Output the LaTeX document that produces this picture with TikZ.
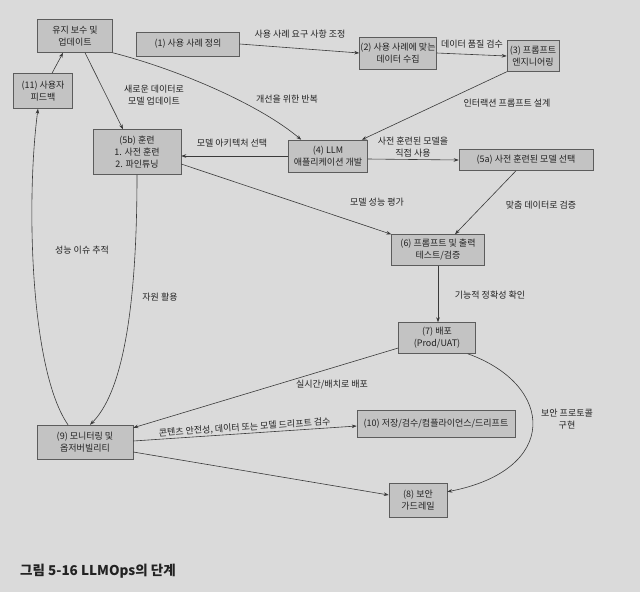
\documentclass[tikz,border=0pt]{standalone}
\usepackage{fontspec}
\setmainfont{Noto Sans CJK KR}
\usetikzlibrary{arrows.meta,calc}
\definecolor{bg}{HTML}{DADADA}
\definecolor{boxfill}{HTML}{C3C3C3}
\definecolor{boxline}{HTML}{5C5C5C}
\definecolor{ln}{HTML}{3A3A3A}
\definecolor{txt}{HTML}{222222}
\begin{document}
\begin{tikzpicture}[x=1pt,y=-1pt,
  box/.style={draw=boxline, fill=boxfill, line width=0.5pt, inner sep=0pt, align=center,
    font=\fontsize{9}{12}\selectfont, text=txt},
  lbl/.style={font=\fontsize{9}{12}\selectfont, text=txt, inner sep=1pt, align=center},
  arr/.style={draw=ln, line width=0.6pt, -{Stealth[length=5pt,width=3.6pt]}}]
\fill[bg] (0,0) rectangle (640,592);
\useasboundingbox (0,0) rectangle (640,592);

% boxes
\node[box, minimum width=75pt, minimum height=33pt] (nM) at (75,36) {유지 보수 및\\업데이트};
\node[box, minimum width=103pt, minimum height=24pt] (n1) at (188,44) {(1) 사용 사례 정의};
\node[box, minimum width=77pt, minimum height=32pt] (n2) at (398,53) {(2) 사용 사례에 맞는\\데이터 수집};
\node[box, minimum width=52pt, minimum height=31pt] (n3) at (533,56) {(3) 프롬프트\\엔지니어링};
\node[box, minimum width=59pt, minimum height=35pt] (n11) at (43,91) {(11) 사용자\\피드백};
\node[box, minimum width=88pt, minimum height=45pt] (n5b) at (137,152) {(5b) 훈련\\1. 사전 훈련\\2. 파인튜닝};
\node[box, minimum width=79pt, minimum height=32pt] (n4) at (328,156) {(4) LLM\\애플리케이션 개발};
\node[box, minimum width=134pt, minimum height=21pt] (n5a) at (526,160) {(5a) 사전 훈련된 모델 선택};
\node[box, minimum width=93pt, minimum height=31pt] (n6) at (438,250) {(6) 프롬프트 및 출력\\테스트/검증};
\node[box, minimum width=77pt, minimum height=31pt] (n7) at (437,338) {(7) 배포\\(Prod/UAT)};
\node[box, minimum width=96pt, minimum height=34pt] (n9) at (85,442) {(9) 모니터링 및\\옵저버빌리티};
\node[box, minimum width=158pt, minimum height=27pt] (n10) at (436,424) {(10) 저장/검수/컴플라이언스/드리프트};
\node[box, minimum width=58pt, minimum height=34pt] (n8) at (418,500) {(8) 보안\\가드레일};

% connectors
\draw[arr] (n1.east) -- (n2.west);
\draw[arr] (n2.east) -- (n3.west);
\draw[arr] (n3.south west) -- ($(n4.north east)+(-6,0)$);
\draw[arr] ($(n4.east)+(0,3)$) -- (n5a.west);
\draw[arr] (n4.west) -- (n4.west -| n5b.east);
\draw[arr] (nM.south east) .. controls (180,70) and (260,105) .. ($(n4.north west)+(13,0)$);
\draw[arr] ($(nM.south)+(10,0)$) -- ($(n5b.north)+(-14,0)$);
\draw[arr] ($(n11.north)+(9,0)$) -- ($(nM.south)+(-12,0)$);
\draw[arr] ($(n5b.east)+(0,12)$) -- (n6.north west);
\draw[arr] ($(n5a.south)+(-10,0)$) -- ($(n6.north)+(17,0)$);
\draw[arr] (n6.south) -- (n6.south |- n7.north);
\draw[arr] (n5b.south) .. controls (137,320) and (120,395) .. ($(n9.north)+(5,0)$);
\draw[arr] ($(n9.north)+(-17,0)$) .. controls (30,370) and (26,200) .. ($(n11.south)+(-5,0)$);
\draw[arr] ($(n7.west)+(0,10)$) -- ($(n9.north east)+(0,3)$);
\draw[arr] ($(n9.east)+(0,-1)$) -- node[lbl, sloped, above, pos=0.5] (l15) {콘텐츠 안전성, 데이터 또는 모델 드리프트 검수} ($(n10.west)+(0,2)$);
\draw[arr] ($(n9.east)+(0,10)$) -- ($(n8.west)+(0,-5)$);
\draw[arr] ($(n7.south east)+(-8,0)$) .. controls (555,385) and (560,470) .. ($(n8.north east)+(0,9)$);

% labels
\node[lbl] (l1) at (300,34) {사용 사례 요구 사항 조정};
\node[lbl] (l2) at (472,44) {데이터 품질 검수};
\node[lbl] (l3) at (507,103) {인터랙션 프롬프트 설계};
\node[lbl] (l4) at (413,147) {사전 훈련된 모델을\\직접 사용};
\node[lbl] (l5) at (232,143) {모델 아키텍처 선택};
\node[lbl] (l6) at (287,99) {개선을 위한 반복};
\node[lbl] (l7) at (154,95) {새로운 데이터로\\모델 업데이트};
\node[lbl] (l9) at (377,202) {모델 성능 평가};
\node[lbl] (l10) at (541,205) {맞춤 데이터로 검증};
\node[lbl] (l11) at (490,295) {기능적 정확성 확인};
\node[lbl] (l12) at (160,297) {자원 활용};
\node[lbl] (l13) at (82,250) {성능 이슈 추적};
\node[lbl] (l14) at (332,385) {실시간/배치로 배포};
\node[lbl] (l17) at (567,419) {보안 프로토콜\\구현};

% caption
\node[font=\fontsize{13.5}{15}\selectfont\bfseries, text=txt, anchor=west, inner sep=0pt] (cap) at (20,571) {그림 5-16 LLMOps의 단계};
\end{tikzpicture}
\end{document}
